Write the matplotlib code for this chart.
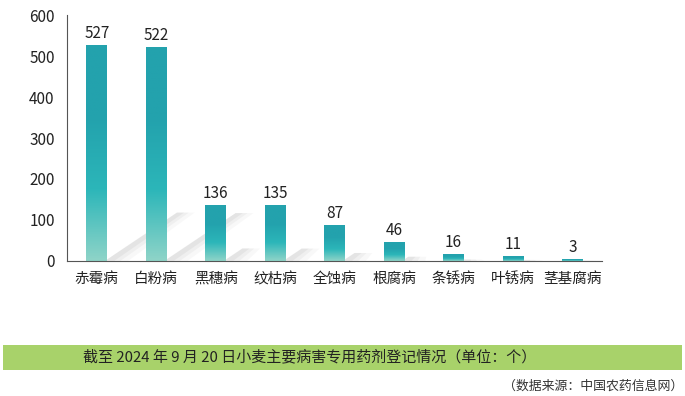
import numpy as np
import matplotlib.pyplot as plt
from matplotlib.colors import LinearSegmentedColormap
from matplotlib.patches import Polygon, Rectangle

plt.rcParams['font.family'] = ['Noto Sans CJK SC', 'DejaVu Sans']

diseases = ['赤霉病', '白粉病', '黑穗病', '纹枯病', '全蚀病', '根腐病', '条锈病', '叶锈病', '茎基腐病']
counts = [527, 522, 136, 135, 87, 46, 16, 11, 3]
yticks = [0, 100, 200, 300, 400, 500, 600]
caption = '截至 2024 年 9 月 20 日小麦主要病害专用药剂登记情况（单位：个）'
source = '（数据来源：中国农药信息网）'

fig = plt.figure(figsize=(6.85, 3.96), dpi=100)
ax = fig.add_axes([0.098, 0.341, 0.781, 0.621])

cmap = LinearSegmentedColormap.from_list('bar', ['#8fd4c8', '#2cb6b9', '#23a2ad', '#23a2ad'])
grad = np.linspace(0, 1, 256).reshape(-1, 1)
w = 0.35

for i, v in enumerate(counts):
    # faint diagonal shadow, a few layers to fake a blur
    rise = 0.224 * v
    run = 0.0023 * v
    x0 = i + w / 2 - 0.04
    for bw, a in [(0.30, 0.05), (0.20, 0.07), (0.12, 0.09)]:
        sh = Polygon([(x0, 0), (x0 + run, rise), (x0 + run + bw, rise), (x0 + bw * 1.3, 0)],
                     closed=True, facecolor='#808080', alpha=a, edgecolor='none', zorder=1)
        ax.add_patch(sh)
    ax.imshow(grad, extent=(i - w / 2, i + w / 2, 0, v), origin='lower', cmap=cmap,
              aspect='auto', zorder=2, vmin=0, vmax=1)
    ax.text(i, v + 8, str(v), ha='center', va='bottom', fontsize=11, color='#222222')

ax.set_xlim(-0.5, 8.5)
ax.set_ylim(0, 600)
ax.set_xticks(range(len(diseases)))
ax.set_xticklabels(diseases, fontsize=10.5, color='#222222')
ax.set_yticks(yticks)
ax.set_yticklabels([str(t) for t in yticks], fontsize=11, color='#222222')
ax.tick_params(axis='x', length=0, pad=8)
ax.tick_params(axis='y', length=0, pad=9)
for s in ['top', 'right']:
    ax.spines[s].set_visible(False)
ax.spines['left'].set_color('#555555')
ax.spines['bottom'].set_color('#555555')

fig.patches.append(Rectangle((3 / 685, 1 - 370 / 396), 679 / 685, 25 / 396,
                             transform=fig.transFigure, facecolor='#a8d26a', edgecolor='none'))
fig.text(83 / 685, 1 - 357 / 396, caption, fontsize=10.8, color='#222222', va='center', ha='left')
fig.text(683 / 685, 1 - 386 / 396, source, fontsize=9.3, color='#333333', va='center', ha='right')

fig.savefig('out.png', dpi=100)
